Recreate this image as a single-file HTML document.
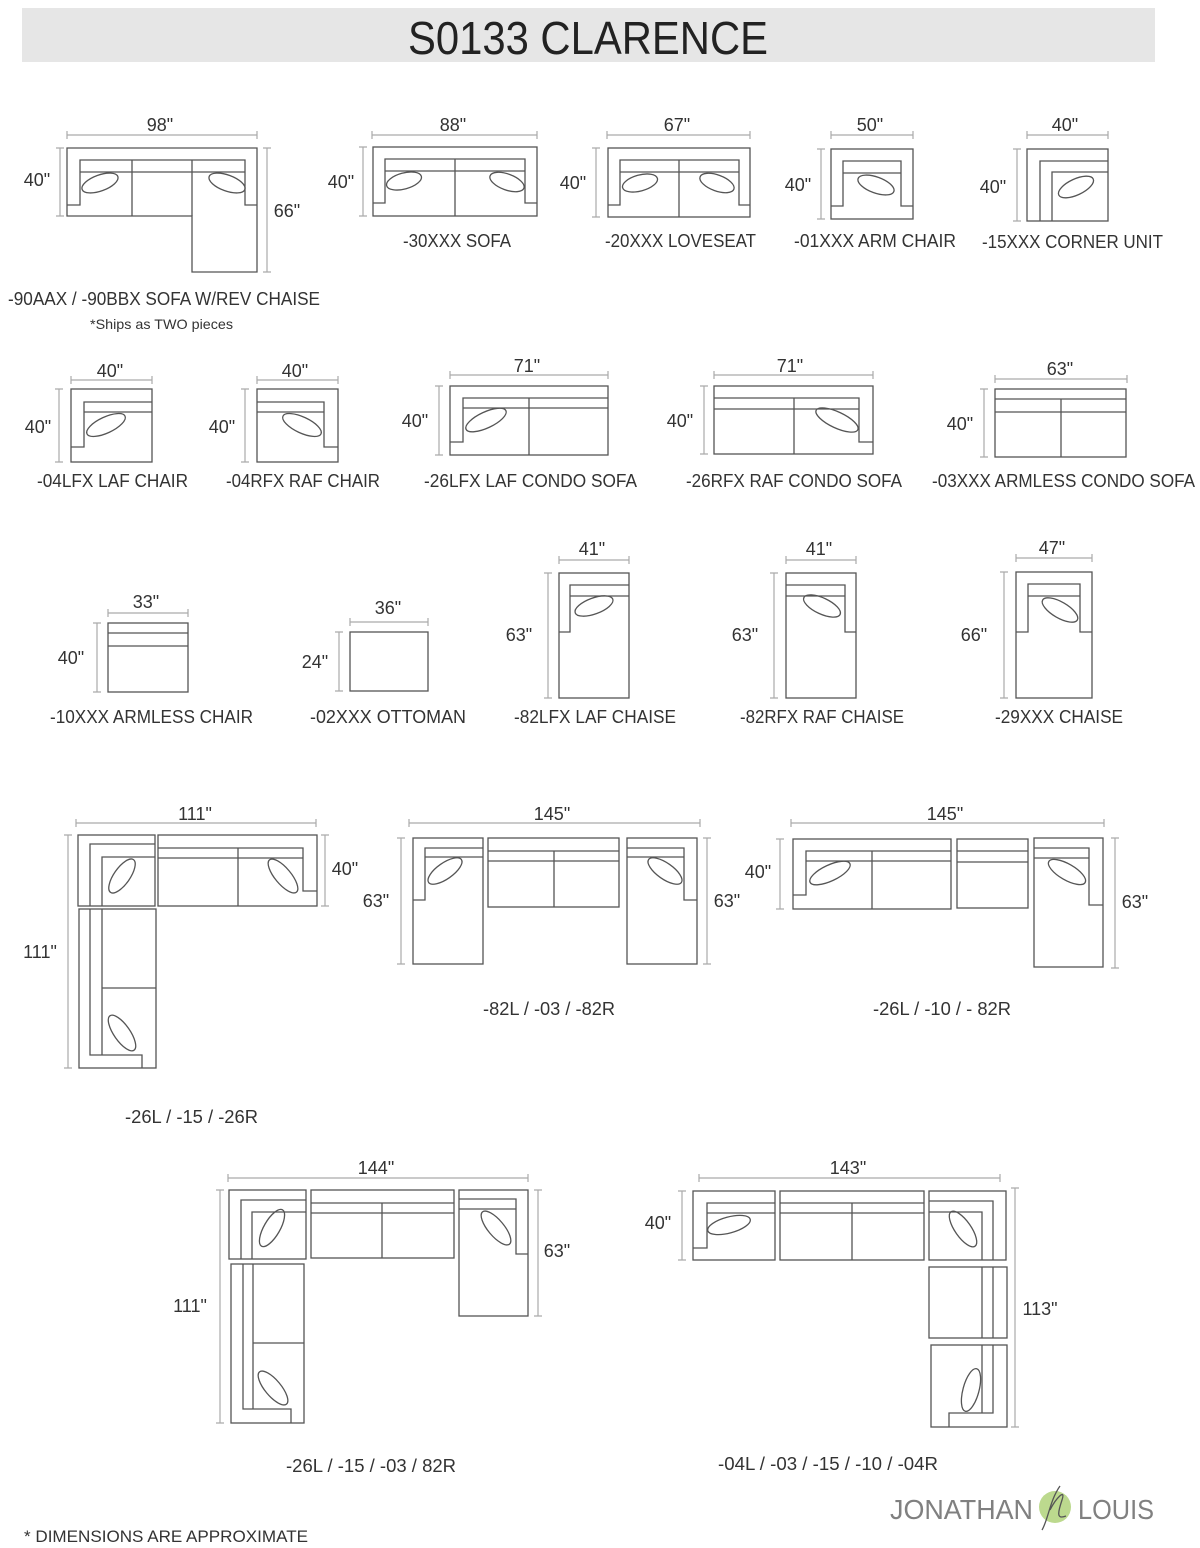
<!DOCTYPE html>
<html><head><meta charset="utf-8"><style>
html,body{margin:0;padding:0;background:#fff}
svg{display:block}
text{font-family:"Liberation Sans Narrow","Liberation Sans",sans-serif;fill:#333}
.s{fill:none;stroke:#555;stroke-width:1.3}
.d{fill:none;stroke:#aaa;stroke-width:1.2}
.n{font-size:18px;text-anchor:middle}
.l{font-size:18px}
</style></head><body>
<svg width="1200" height="1548" viewBox="0 0 1200 1548" xmlns="http://www.w3.org/2000/svg">
<rect x="22" y="8" width="1133" height="54" fill="#e6e6e6"/>
<text x="408" y="54" font-size="46" textLength="360" lengthAdjust="spacingAndGlyphs" style="font-family:'Liberation Sans',sans-serif;fill:#222">S0133 CLARENCE</text>

<!-- P1 sofa w/ rev chaise -->
<g class="s">
<path d="M67 148H257V272H192V216H67Z"/>
<path d="M67 205H80V160H245V205H257M80 172H245M132 160V216M192 160V216"/>
<ellipse cx="100" cy="183" rx="19" ry="8" transform="rotate(-20 100 183)"/>
<ellipse cx="227" cy="183" rx="19" ry="8" transform="rotate(20 227 183)"/>
</g>
<path class="d" d="M67 135H257M67 131v8M257 131v8M60 148V216M56 148h8M56 216h8M267 148V272M263 148h8M263 272h8"/>
<text class="n" x="160" y="131">98"</text><text class="n" x="37" y="186">40"</text><text class="n" x="287" y="217">66"</text>
<text class="l" x="8" y="305" textLength="312" lengthAdjust="spacingAndGlyphs">-90AAX / -90BBX SOFA W/REV CHAISE</text>
<text x="90" y="329" font-size="14" textLength="143" lengthAdjust="spacingAndGlyphs">*Ships as TWO pieces</text>

<!-- P2 sofa -->
<g class="s"><rect x="373" y="147" width="164" height="69"/>
<path d="M373 203H385V159H525V203H537M385 171H525M455 159V216"/>
<ellipse cx="404" cy="181" rx="18" ry="8" transform="rotate(-15 404 181)"/>
<ellipse cx="507" cy="182" rx="18" ry="8" transform="rotate(20 507 182)"/></g>
<path class="d" d="M372 135H537M372 131v8M537 131v8M363 147V216M359 147h8M359 216h8"/>
<text class="n" x="453" y="131">88"</text><text class="n" x="341" y="188">40"</text>
<text class="l" x="403" y="247" textLength="108" lengthAdjust="spacingAndGlyphs">-30XXX SOFA</text>

<!-- P3 loveseat -->
<g class="s"><rect x="608" y="148" width="142" height="69"/>
<path d="M608 205H620V160H739V205H750M620 172H739M679 160V217"/>
<ellipse cx="640" cy="183" rx="18" ry="8" transform="rotate(-15 640 183)"/>
<ellipse cx="717" cy="183" rx="18" ry="8" transform="rotate(20 717 183)"/></g>
<path class="d" d="M607 135H750M607 131v8M750 131v8M596 148V217M592 148h8M592 217h8"/>
<text class="n" x="677" y="131">67"</text><text class="n" x="573" y="189">40"</text>
<text class="l" x="605" y="247" textLength="151" lengthAdjust="spacingAndGlyphs">-20XXX LOVESEAT</text>

<!-- P4 arm chair -->
<g class="s"><rect x="831" y="149" width="82" height="70"/>
<path d="M831 206H843V161H901V206H913M843 173H901"/>
<ellipse cx="876" cy="185" rx="19" ry="8" transform="rotate(20 876 185)"/></g>
<path class="d" d="M831 135H913M831 131v8M913 131v8M821 149V219M817 149h8M817 219h8"/>
<text class="n" x="870" y="131">50"</text><text class="n" x="798" y="191">40"</text>
<text class="l" x="794" y="247" textLength="162" lengthAdjust="spacingAndGlyphs">-01XXX ARM CHAIR</text>

<!-- P5 corner -->
<g class="s"><rect x="1027" y="149" width="81" height="72"/>
<path d="M1040 221V161H1108M1052 221V172H1108"/>
<ellipse cx="1076" cy="187" rx="19" ry="8" transform="rotate(-25 1076 187)"/></g>
<path class="d" d="M1027 135H1108M1027 131v8M1108 131v8M1017 149V221M1013 149h8M1013 221h8"/>
<text class="n" x="1065" y="131">40"</text><text class="n" x="993" y="193">40"</text>
<text class="l" x="982" y="248" textLength="181" lengthAdjust="spacingAndGlyphs">-15XXX CORNER UNIT</text>

<!-- P6 LAF chair -->
<g class="s"><rect x="71" y="389" width="81" height="73"/>
<path d="M71 447H84V402H152M84 412H152"/>
<ellipse cx="106" cy="425" rx="21" ry="8" transform="rotate(-25 106 425)"/></g>
<path class="d" d="M71 380H152M71 376v8M152 376v8M59 389V462M55 389h8M55 462h8"/>
<text class="n" x="110" y="377">40"</text><text class="n" x="38" y="433">40"</text>
<text class="l" x="37" y="487" textLength="151" lengthAdjust="spacingAndGlyphs">-04LFX LAF CHAIR</text>

<!-- P7 RAF chair -->
<g class="s"><rect x="257" y="389" width="81" height="73"/>
<path d="M338 447H324V402H257M324 412H257"/>
<ellipse cx="302" cy="425" rx="21" ry="8" transform="rotate(25 302 425)"/></g>
<path class="d" d="M257 380H338M257 376v8M338 376v8M245 389V462M241 389h8M241 462h8"/>
<text class="n" x="295" y="377">40"</text><text class="n" x="222" y="433">40"</text>
<text class="l" x="226" y="487" textLength="154" lengthAdjust="spacingAndGlyphs">-04RFX RAF CHAIR</text>

<!-- P8 LAF condo -->
<g class="s"><rect x="450" y="386" width="158" height="69"/>
<path d="M450 442H463V398H608M463 408H608M529 398V455"/>
<ellipse cx="486" cy="420" rx="22" ry="8" transform="rotate(-25 486 420)"/></g>
<path class="d" d="M450 375H608M450 371v8M608 371v8M439 386V455M435 386h8M435 455h8"/>
<text class="n" x="527" y="372">71"</text><text class="n" x="415" y="427">40"</text>
<text class="l" x="424" y="487" textLength="213" lengthAdjust="spacingAndGlyphs">-26LFX LAF CONDO SOFA</text>

<!-- P9 RAF condo -->
<g class="s"><rect x="714" y="386" width="159" height="68"/>
<path d="M873 442H859V398H714M859 409H714M794 398V454"/>
<ellipse cx="837" cy="420" rx="23" ry="8" transform="rotate(25 837 420)"/></g>
<path class="d" d="M714 375H873M714 371v8M873 371v8M704 386V454M700 386h8M700 454h8"/>
<text class="n" x="790" y="372">71"</text><text class="n" x="680" y="427">40"</text>
<text class="l" x="686" y="487" textLength="216" lengthAdjust="spacingAndGlyphs">-26RFX RAF CONDO SOFA</text>

<!-- P10 armless condo -->
<g class="s"><rect x="995" y="389" width="131" height="68"/>
<path d="M995 399H1126M995 412H1126M1061 399V457"/></g>
<path class="d" d="M995 379H1127M995 375v8M1127 375v8M984 389V457M980 389h8M980 457h8"/>
<text class="n" x="1060" y="375">63"</text><text class="n" x="960" y="430">40"</text>
<text class="l" x="932" y="487" textLength="263" lengthAdjust="spacingAndGlyphs">-03XXX ARMLESS CONDO SOFA</text>

<!-- P11 armless chair -->
<g class="s"><rect x="108" y="623" width="80" height="69"/><path d="M108 633H188M108 646H188"/></g>
<path class="d" d="M108 613H188M108 609v8M188 609v8M97 623V692M93 623h8M93 692h8"/>
<text class="n" x="146" y="608">33"</text><text class="n" x="71" y="664">40"</text>
<text class="l" x="50" y="723" textLength="203" lengthAdjust="spacingAndGlyphs">-10XXX ARMLESS CHAIR</text>

<!-- P12 ottoman -->
<rect class="s" x="350" y="632" width="78" height="59"/>
<path class="d" d="M350 622H428M350 618v8M428 618v8M339 632V691M335 632h8M335 691h8"/>
<text class="n" x="388" y="614">36"</text><text class="n" x="315" y="668">24"</text>
<text class="l" x="310" y="723" textLength="156" lengthAdjust="spacingAndGlyphs">-02XXX OTTOMAN</text>

<!-- P13 LAF chaise -->
<g class="s"><rect x="559" y="573" width="70" height="125"/>
<path d="M559 632H570V585H629M570 596H629"/>
<ellipse cx="594" cy="606" rx="20" ry="8" transform="rotate(-20 594 606)"/></g>
<path class="d" d="M559 560H629M559 556v8M629 556v8M548 573V698M544 573h8M544 698h8"/>
<text class="n" x="592" y="555">41"</text><text class="n" x="519" y="641">63"</text>
<text class="l" x="514" y="723" textLength="162" lengthAdjust="spacingAndGlyphs">-82LFX LAF CHAISE</text>

<!-- P14 RAF chaise -->
<g class="s"><rect x="786" y="573" width="70" height="125"/>
<path d="M856 632H845V585H786M845 596H786"/>
<ellipse cx="822" cy="606" rx="20" ry="8" transform="rotate(25 822 606)"/></g>
<path class="d" d="M786 560H856M786 556v8M856 556v8M774 573V698M770 573h8M770 698h8"/>
<text class="n" x="819" y="555">41"</text><text class="n" x="745" y="641">63"</text>
<text class="l" x="740" y="723" textLength="164" lengthAdjust="spacingAndGlyphs">-82RFX RAF CHAISE</text>

<!-- P15 chaise -->
<g class="s"><rect x="1016" y="572" width="76" height="126"/>
<path d="M1016 632H1028V584H1080V632H1092M1028 596H1080"/>
<ellipse cx="1060" cy="610" rx="20" ry="8" transform="rotate(30 1060 610)"/></g>
<path class="d" d="M1016 558H1092M1016 554v8M1092 554v8M1004 572V698M1000 572h8M1000 698h8"/>
<text class="n" x="1052" y="554">47"</text><text class="n" x="974" y="641">66"</text>
<text class="l" x="995" y="723" textLength="128" lengthAdjust="spacingAndGlyphs">-29XXX CHAISE</text>

<!-- P16 -26L/-15/-26R -->
<g class="s">
<rect x="78" y="835" width="77" height="71"/>
<path d="M90 906V844H155M102 906V857H155"/>
<ellipse cx="122" cy="876" rx="20" ry="8" transform="rotate(-55 122 876)"/>
<rect x="158" y="835" width="159" height="71"/>
<path d="M158 848H303V891H317M158 858H303M238 848V906"/>
<ellipse cx="283" cy="876" rx="21" ry="8" transform="rotate(50 283 876)"/>
<rect x="79" y="909" width="77" height="159"/>
<path d="M90 909V1055H142V1068M102 909V1055M102 988H156"/>
<ellipse cx="122" cy="1033" rx="21" ry="8" transform="rotate(55 122 1033)"/>
</g>
<path class="d" d="M76 823H316M76 819v8M316 819v8M325 835V906M321 835h8M321 906h8M68 835V1068M64 835h8M64 1068h8"/>
<text class="n" x="195" y="820">111"</text><text class="n" x="345" y="875">40"</text><text class="n" x="40" y="958">111"</text>
<text class="l" x="125" y="1123" textLength="133" lengthAdjust="spacingAndGlyphs">-26L / -15 / -26R</text>

<!-- P17 -82L/-03/-82R -->
<g class="s">
<rect x="413" y="838" width="70" height="126"/>
<path d="M413 900H425V848H483M425 857H483"/>
<ellipse cx="445" cy="871" rx="20" ry="8" transform="rotate(-35 445 871)"/>
<rect x="488" y="838" width="131" height="69"/>
<path d="M488 851H619M488 861H619M554 851V907"/>
<rect x="627" y="838" width="70" height="126"/>
<path d="M697 900H684V848H627M684 857H627"/>
<ellipse cx="665" cy="871" rx="20" ry="8" transform="rotate(35 665 871)"/>
</g>
<path class="d" d="M409 823H700M409 819v8M700 819v8M401 838V964M397 838h8M397 964h8M707 838V964M703 838h8M703 964h8"/>
<text class="n" x="552" y="820">145"</text><text class="n" x="376" y="907">63"</text><text class="n" x="727" y="907">63"</text>
<text class="l" x="483" y="1015" textLength="132" lengthAdjust="spacingAndGlyphs">-82L / -03 / -82R</text>

<!-- P18 -26L/-10/-82R -->
<g class="s">
<rect x="793" y="839" width="158" height="70"/>
<path d="M793 895H806V851H951M806 861H951M872 851V909"/>
<ellipse cx="830" cy="873" rx="22" ry="8" transform="rotate(-25 830 873)"/>
<rect x="957" y="839" width="71" height="69"/>
<path d="M957 851H1028M957 862H1028"/>
<rect x="1034" y="838" width="69" height="129"/>
<path d="M1103 905H1089V848H1034M1089 858H1034"/>
<ellipse cx="1067" cy="872" rx="21" ry="8" transform="rotate(30 1067 872)"/>
</g>
<path class="d" d="M791 823H1104M791 819v8M1104 819v8M780 839V909M776 839h8M776 909h8M1115 838V968M1111 838h8M1111 968h8"/>
<text class="n" x="945" y="820">145"</text><text class="n" x="758" y="878">40"</text><text class="n" x="1135" y="908">63"</text>
<text class="l" x="873" y="1015" textLength="138" lengthAdjust="spacingAndGlyphs">-26L / -10 / - 82R</text>

<!-- P19 -26L/-15/-03/82R -->
<g class="s">
<rect x="229" y="1190" width="77" height="69"/>
<path d="M241 1259V1200H306M252 1259V1212H306"/>
<ellipse cx="272" cy="1228" rx="21" ry="8" transform="rotate(-60 272 1228)"/>
<rect x="311" y="1190" width="143" height="68"/>
<path d="M311 1203H454M311 1213H454M382 1203V1258"/>
<rect x="459" y="1190" width="69" height="126"/>
<path d="M528 1254H516V1199H459M516 1209H459"/>
<ellipse cx="496" cy="1228" rx="21" ry="8" transform="rotate(50 496 1228)"/>
<rect x="231" y="1264" width="73" height="159"/>
<path d="M243 1264V1409H291V1423M253 1264V1409M253 1343H304"/>
<ellipse cx="273" cy="1388" rx="21" ry="8" transform="rotate(50 273 1388)"/>
</g>
<path class="d" d="M228 1178H528M228 1174v8M528 1174v8M220 1190V1423M216 1190h8M216 1423h8M538 1190V1316M534 1190h8M534 1316h8"/>
<text class="n" x="376" y="1174">144"</text><text class="n" x="190" y="1312">111"</text><text class="n" x="557" y="1257">63"</text>
<text class="l" x="286" y="1472" textLength="170" lengthAdjust="spacingAndGlyphs">-26L / -15 / -03 / 82R</text>

<!-- P20 -04L/-03/-15/-10/-04R -->
<g class="s">
<rect x="693" y="1191" width="82" height="69"/>
<path d="M693 1248H707V1203H775M707 1213H775"/>
<ellipse cx="729" cy="1225" rx="22" ry="8" transform="rotate(-15 729 1225)"/>
<rect x="780" y="1191" width="144" height="69"/>
<path d="M780 1203H924M780 1213H924M852 1203V1260"/>
<rect x="929" y="1191" width="77" height="69"/>
<path d="M929 1201H993V1260M929 1212H982V1260"/>
<ellipse cx="963" cy="1229" rx="21" ry="8" transform="rotate(55 963 1229)"/>
<rect x="929" y="1267" width="78" height="71"/>
<path d="M982 1267V1338M993 1267V1338"/>
<rect x="931" y="1345" width="76" height="82"/>
<path d="M993 1345V1413H949V1427M982 1345V1413"/>
<ellipse cx="971" cy="1390" rx="22" ry="8" transform="rotate(-75 971 1390)"/>
</g>
<path class="d" d="M699 1178H1000M699 1174v8M1000 1174v8M682 1191V1260M678 1191h8M678 1260h8M1015 1188V1427M1011 1188h8M1011 1427h8"/>
<text class="n" x="848" y="1174">143"</text><text class="n" x="658" y="1229">40"</text><text class="n" x="1040" y="1315">113"</text>
<text class="l" x="718" y="1470" textLength="220" lengthAdjust="spacingAndGlyphs">-04L / -03 / -15 / -10 / -04R</text>

<!-- footer -->
<text x="24" y="1542" font-size="17" textLength="284" lengthAdjust="spacingAndGlyphs">* DIMENSIONS ARE APPROXIMATE</text>
<circle cx="1055" cy="1507" r="16" fill="#bcd98e"/>
<path d="M1060 1486C1050 1500 1048 1520 1042 1530M1050 1510C1056 1498 1066 1488 1062 1500C1058 1512 1056 1520 1066 1516" fill="none" stroke="#555" stroke-width="1.3"/>
<text x="890" y="1519" font-size="28" textLength="143" lengthAdjust="spacingAndGlyphs" style="font-family:'Liberation Sans',sans-serif;fill:#808080">JONATHAN</text>
<text x="1078" y="1519" font-size="28" textLength="76" lengthAdjust="spacingAndGlyphs" style="font-family:'Liberation Sans',sans-serif;fill:#808080">LOUIS</text>
</svg>
</body></html>
